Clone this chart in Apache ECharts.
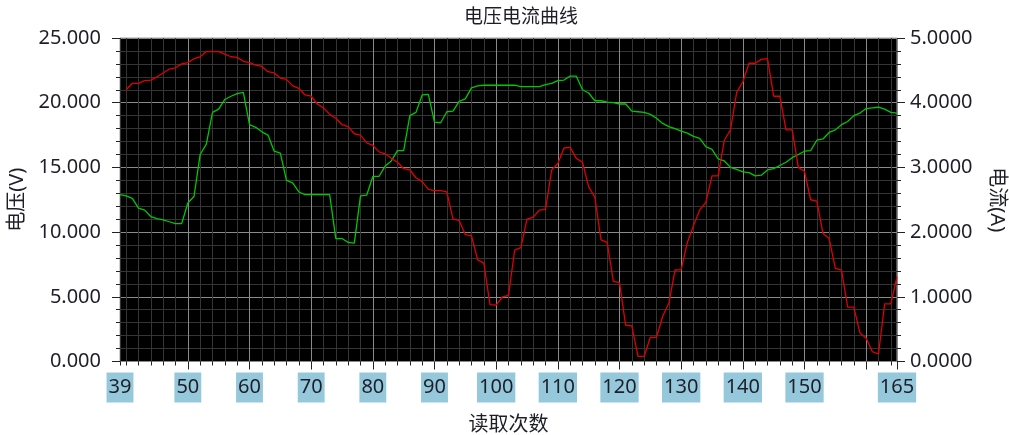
<!DOCTYPE html>
<html><head><meta charset="utf-8">
<script src="https://cdn.jsdelivr.net/npm/echarts@6/dist/echarts.min.js"></script>
<style>html,body{margin:0;padding:0;background:#fff}#c{width:1009px;height:435px}</style>
</head><body><div id="c"></div>
<script>
const readings = [39,40,41,42,43,44,45,46,47,48,49,50,51,52,53,54,55,56,57,58,59,60,61,62,63,64,65,66,67,68,69,70,71,72,73,74,75,76,77,78,79,80,81,82,83,84,85,86,87,88,89,90,91,92,93,94,95,96,97,98,99,100,101,102,103,104,105,106,107,108,109,110,111,112,113,114,115,116,117,118,119,120,121,122,123,124,125,126,127,128,129,130,131,132,133,134,135,136,137,138,139,140,141,142,143,144,145,146,147,148,149,150,151,152,153,154,155,156,157,158,159,160,161,162,163,164,165];
const voltage = [null,21.0,21.5,21.5,21.7,21.75,22.0,22.3,22.6,22.7,23.0,23.1,23.4,23.55,23.95,23.95,23.95,23.75,23.55,23.5,23.2,23.1,22.9,22.8,22.4,22.3,21.9,21.8,21.3,21.1,20.6,20.5,19.9,19.6,19.1,18.8,18.3,18.15,17.6,17.5,16.9,16.7,16.2,16.05,15.7,15.4,14.9,14.8,14.2,13.9,13.3,13.2,13.2,13.1,11.0,10.9,9.8,9.7,7.85,7.6,4.4,4.35,5.0,5.1,8.6,8.8,11.0,11.15,11.7,11.75,14.8,15.3,16.5,16.55,15.7,15.4,13.5,12.7,9.4,9.2,6.2,6.1,2.8,2.75,0.4,0.4,1.87,1.87,3.5,4.5,7.07,7.1,9.2,10.5,11.7,12.3,14.35,14.35,17.1,17.9,20.8,21.6,23.05,23.05,23.35,23.4,20.5,20.5,17.9,17.9,15.0,14.7,12.5,12.4,9.9,9.5,7.2,7.07,4.2,4.2,2.2,1.8,0.76,0.58,4.45,4.45,6.55];
const current = [2.58,2.56,2.52,2.37,2.34,2.24,2.21,2.19,2.16,2.13,2.13,2.45,2.55,3.2,3.36,3.85,3.9,4.05,4.1,4.14,4.16,3.66,3.62,3.55,3.5,3.25,3.22,2.8,2.76,2.62,2.58,2.58,2.58,2.58,2.58,1.9,1.9,1.84,1.83,2.56,2.57,2.86,2.86,3.02,3.1,3.26,3.26,3.8,3.85,4.12,4.13,3.7,3.69,3.86,3.87,4.02,4.06,4.23,4.26,4.27,4.27,4.27,4.27,4.27,4.27,4.25,4.25,4.25,4.25,4.28,4.3,4.34,4.35,4.41,4.41,4.2,4.15,4.03,4.03,4.01,4.0,3.98,3.98,3.87,3.86,3.85,3.82,3.76,3.68,3.63,3.6,3.56,3.53,3.48,3.45,3.32,3.28,3.13,3.1,3.0,2.97,2.93,2.92,2.87,2.88,2.96,2.98,3.03,3.08,3.15,3.2,3.25,3.26,3.42,3.44,3.54,3.58,3.66,3.71,3.8,3.84,3.91,3.92,3.93,3.9,3.85,3.84];
const xLabelValues = [39,50,60,70,80,90,100,110,120,130,140,150,165];
const xMajorTicks = [50,60,70,80,90,100,110,120,130,140,150,160,165];
const xMinorTicks = [39,40,42,44,46,48,52,54,56,58,62,64,66,68,72,74,76,78,82,84,86,88,92,94,96,98,102,104,106,108,112,114,116,118,122,124,126,128,132,134,136,138,142,144,146,148,152,154,156,158,162,164];

const FONT = "'Noto Sans','Noto Sans CJK SC',sans-serif";
const TXT = '#1e1e28';
const MAJOR = '#8a8a8a';
const MINOR = '#353535';

const chart = echarts.init(document.getElementById('c'));
chart.setOption({
  animation: false,
  backgroundColor: '#fff',
  textStyle: { fontFamily: FONT },
  title: {
    text: '电压电流曲线', left: 464, top: 8, padding: 0,
    textStyle: { fontSize: 19, fontWeight: 'normal', color: TXT, fontFamily: FONT }
  },
  grid: {
    left: 120, right: 112, top: 38, bottom: 73.5,
    outerBoundsMode: 'none', containLabel: false,
    show: true, backgroundColor: '#000', borderColor: '#a0a0a0', borderWidth: 1
  },
  xAxis: [
    {
      type: 'value', min: 39, max: 165, position: 'bottom',
      name: '读取次数', nameLocation: 'middle', nameGap: 54,
      nameTextStyle: { fontSize: 20, color: TXT, fontFamily: FONT },
      axisLine: { show: false },
      axisTick: { show: true, customValues: xMajorTicks, length: 8, lineStyle: { color: '#222', width: 1 } },
      axisLabel: {
        customValues: xLabelValues, margin: 11, fontSize: 20, color: TXT, fontFamily: FONT,
        backgroundColor: '#96c8dc', padding: [1, 2], lineHeight: 28
      },
      splitLine: { show: true, lineStyle: { color: MAJOR, width: 1 } }
    },
    {
      type: 'value', min: 39, max: 165, position: 'bottom',
      axisLine: { show: false },
      axisTick: { show: true, customValues: xMinorTicks, length: 4, lineStyle: { color: '#222', width: 1 } },
      axisLabel: { show: false },
      splitLine: { show: true, lineStyle: { color: MINOR, width: 1 } }
    }
  ],
  yAxis: [
    {
      type: 'value', min: 0, max: 25, interval: 5, position: 'left',
      name: '电压(V)', nameLocation: 'middle', nameGap: 92,
      nameTextStyle: { fontSize: 20, color: TXT, fontFamily: FONT },
      axisLine: { show: false },
      axisTick: { show: true, length: 8, lineStyle: { color: '#222' } },
      minorTick: { show: true, splitNumber: 5, length: 4, lineStyle: { color: '#222' } },
      axisLabel: { margin: 19, fontSize: 20, color: TXT, fontFamily: FONT, formatter: v => v.toFixed(3) },
      splitLine: { show: true, lineStyle: { color: MAJOR, width: 1 } },
      minorSplitLine: { show: true, lineStyle: { color: MINOR, width: 1 } }
    },
    {
      type: 'value', min: 0, max: 5, interval: 1, position: 'right',
      name: '电流(A)', nameLocation: 'middle', nameGap: 90, nameRotate: -90,
      nameTextStyle: { fontSize: 20, color: TXT, fontFamily: FONT },
      axisLine: { show: false },
      axisTick: { show: true, length: 8, lineStyle: { color: '#222' } },
      minorTick: { show: true, splitNumber: 5, length: 4, lineStyle: { color: '#222' } },
      axisLabel: { margin: 13, fontSize: 20, color: TXT, fontFamily: FONT, formatter: v => v.toFixed(4) },
      splitLine: { show: false }
    }
  ],
  series: [
    {
      name: '电流', type: 'line', xAxisIndex: 0, yAxisIndex: 1,
      data: readings.map((r, i) => [r, current[i]]),
      showSymbol: false, lineStyle: { color: '#00c800', width: 1.3 }, itemStyle: { color: '#00c800' }
    },
    {
      name: '电压', type: 'line', xAxisIndex: 0, yAxisIndex: 0,
      data: readings.map((r, i) => [r, voltage[i]]),
      showSymbol: false, lineStyle: { color: '#e00000', width: 1.3 }, itemStyle: { color: '#e00000' }
    }
  ]
});
</script></body></html>
